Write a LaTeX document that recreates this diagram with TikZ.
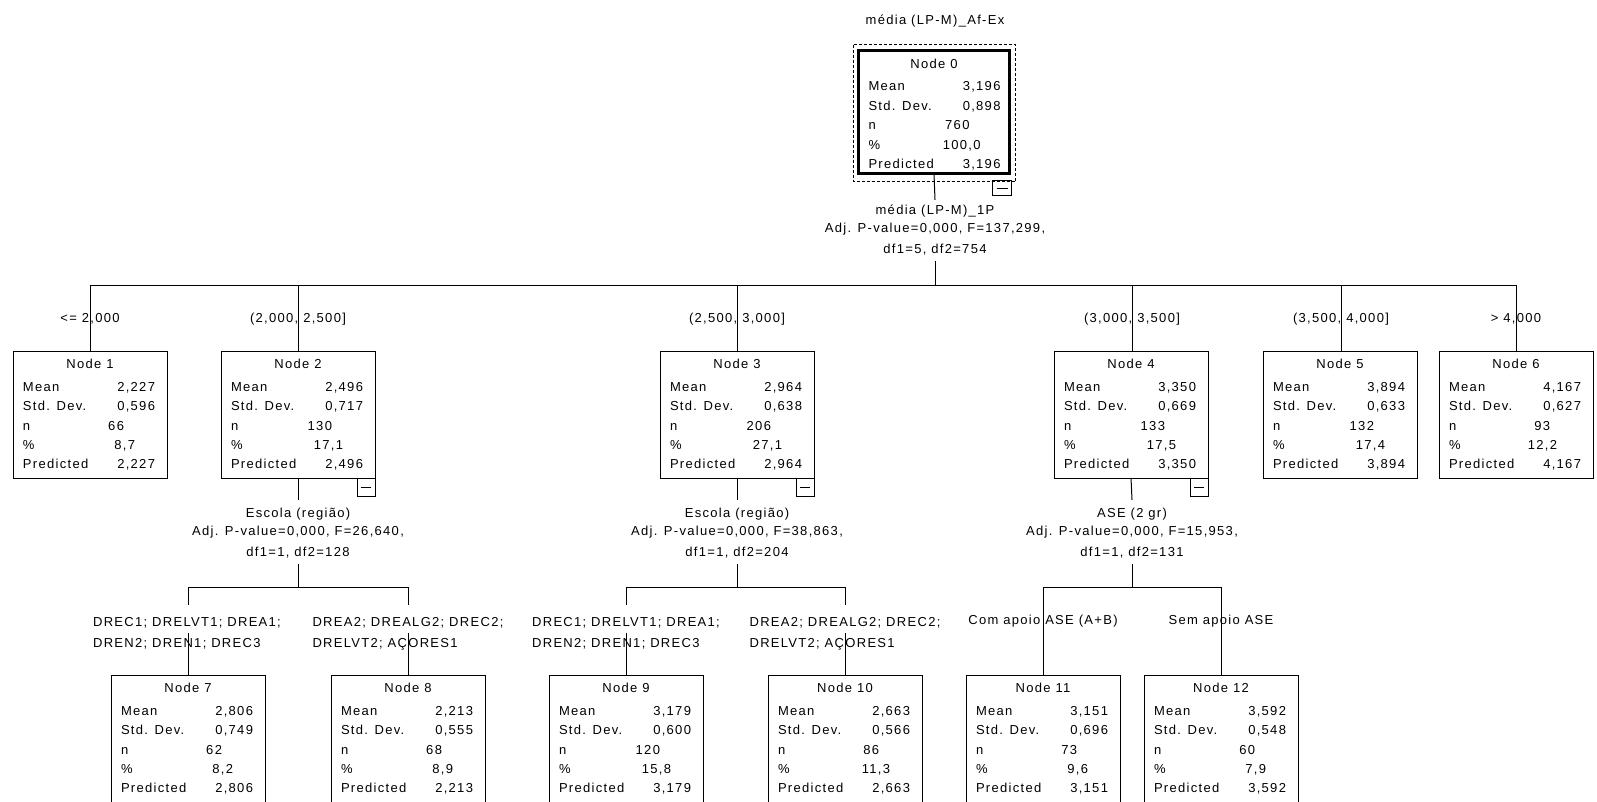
\documentclass[tikz,border=0pt]{standalone}
\usepackage{fontspec}
\setmainfont{Liberation Sans}[LetterSpace=10]
\usetikzlibrary{calc}
\newcommand\ncol{111}
\newcommand\pcol{122}
% optional style, name, position, title, mean, std, n, pct
\newcommand\statbox[8][]{%
  \node[statframe,#1] (#2) at (#3) {};
  \node[txt] (#2-t) at ($(#2.north)+(0,17.5)$) {#4};
  \node[txt,anchor=base west] (#2-ml) at ($(#2.north west)+(10,40)$) {Mean};
  \node[txt,anchor=base east] (#2-mv) at ($(#2.north west)+(142,40)$) {#5};
  \node[txt,anchor=base west] (#2-sl) at ($(#2.north west)+(10,59.5)$) {Std. Dev.};
  \node[txt,anchor=base east] (#2-sv) at ($(#2.north west)+(142,59.5)$) {#6};
  \node[txt,anchor=base west] (#2-nl) at ($(#2.north west)+(10,79)$) {n};
  \node[txt,anchor=base east] (#2-nv) at ($(#2.north west)+(\ncol,79)$) {#7};
  \node[txt,anchor=base west] (#2-pl) at ($(#2.north west)+(10,98.5)$) {\%};
  \node[txt,anchor=base east] (#2-pv) at ($(#2.north west)+(\pcol,98.5)$) {#8};
  \node[txt,anchor=base west] (#2-rl) at ($(#2.north west)+(10,117.5)$) {Predicted};
  \node[txt,anchor=base east] (#2-rv) at ($(#2.north west)+(142,117.5)$) {#5};
}
% name, x, first baseline y, three lines
\newcommand\splitlabel[6]{%
  \node[txt] (#1-a) at (#2,#3) {#4};
  \node[txt] (#1-b) at (#2,{#3+17.5}) {#5};
  \node[txt] (#1-c) at (#2,{#3+39}) {#6};
}
% name, line x, two lines (left aligned block centred on x)
\newcommand\twoline[4]{%
  \node[txt] (#1-a) at (#2,626) {#3};
  \node[txt,anchor=base west] (#1-b) at (#1-a.west |- 0,647.5) {#4};
}
\begin{document}
\begin{tikzpicture}[x=1pt,y=-1pt,
  every node/.style={inner sep=0pt,outer sep=0pt},
  font=\fontsize{13}{15}\selectfont,
  conn/.style={line width=1pt},
  statframe/.style={draw,line width=1pt,minimum width=154pt,minimum height=127pt,anchor=north west},
  thickframe/.style={line width=3pt,minimum width=151pt,minimum height=123pt},
  lowframe/.style={minimum height=140pt},
  txt/.style={anchor=base},
  minusbox/.style={draw,line width=1pt,minimum width=18pt,minimum height=18pt,anchor=north east,
    path picture={\draw[line width=1pt] ([xshift=4pt]path picture bounding box.west) -- ([xshift=-4pt]path picture bounding box.east);}},
  dashframe/.style={line width=1pt,dash pattern=on 3pt off 2pt}
]
\useasboundingbox (0,0) rectangle (1597,801);
\clip (0,0) rectangle (1597,801);
\fill[white] (0,0) rectangle (1597,801);

% root
\node[txt] (title) at (935,24.5) {média (LP-M)\_Af-Ex};
\statbox[thickframe]{n0}{858.5,50.5}{Node 0}{3,196}{0,898}{760}{100,0}
\draw[dashframe] ($(n0.north west)+(-5,-6)$) rectangle ($(n0.south east)+(6,8)$);
\node[minusbox,minimum width=19pt,minimum height=15pt] (n0-m) at ($(n0.south east)+(2,7)$) {};
\splitlabel{s0}{935}{214.5}{média (LP-M)\_1P}{Adj. P-value=0,000, F=137,299,}{df1=5, df2=754}
\coordinate (b0) at (935,285);
\draw[conn] (n0.south) -- ([yshift=5pt]s0-a.north);
\draw[conn] ([yshift=-6pt]s0-c.south) -- (b0);

% level 1 labels
\node[txt] (l1) at (90,322.5) {<= 2,000};
\node[txt] (l2) at (298,322.5) {(2,000, 2,500]};
\node[txt] (l3) at (737,322.5) {(2,500, 3,000]};
\node[txt] (l4) at (1132,322.5) {(3,000, 3,500]};
\node[txt] (l5) at (1341,322.5) {(3,500, 4,000]};
\node[txt] (l6) at (1516,322.5) {> 4,000};

% level 1 boxes
\statbox{n1}{13,351}{Node 1}{2,227}{0,596}{66}{8,7}
\statbox{n2}{221,351}{Node 2}{2,496}{0,717}{130}{17,1}
\statbox{n3}{660,351}{Node 3}{2,964}{0,638}{206}{27,1}
\statbox{n4}{1054,351}{Node 4}{3,350}{0,669}{133}{17,5}
\statbox{n5}{1263,351}{Node 5}{3,894}{0,633}{132}{17,4}
\renewcommand\pcol{118}
\statbox{n6}{1439,351}{Node 6}{4,167}{0,627}{93}{12,2}
\renewcommand\pcol{122}

\draw[conn] (l1 |- b0) -- (l6 |- b0);
\foreach \i in {1,...,6} \draw[conn] (l\i |- b0) -- (l\i |- n\i.north);

% minus boxes
\node[minusbox] (n2-m) at (n2.south east) {};
\node[minusbox] (n3-m) at (n3.south east) {};
\node[minusbox] (n4-m) at (n4.south east) {};

% splits of level 1
\splitlabel{s2}{298}{517.5}{Escola (região)}{Adj. P-value=0,000, F=26,640,}{df1=1, df2=128}
\splitlabel{s3}{737}{517.5}{Escola (região)}{Adj. P-value=0,000, F=38,863,}{df1=1, df2=204}
\splitlabel{s4}{1132}{517.5}{ASE (2 gr)}{Adj. P-value=0,000, F=15,953,}{df1=1, df2=131}
\foreach \i in {2,3,4} {
  \draw[conn] (n\i.south) -- ([yshift=8pt]s\i-a.north);
  \draw[conn] ([yshift=-6pt]s\i-c.south) -- (s\i-c.south |- 0,587);
}

% level 2 boxes
\statbox[lowframe]{n7}{111,675}{Node 7}{2,806}{0,749}{62}{8,2}
\statbox[lowframe]{n8}{331,675}{Node 8}{2,213}{0,555}{68}{8,9}
\statbox[lowframe]{n9}{549,675}{Node 9}{3,179}{0,600}{120}{15,8}
\statbox[lowframe]{n10}{768,675}{Node 10}{2,663}{0,566}{86}{11,3}
\statbox[lowframe]{n11}{966,675}{Node 11}{3,151}{0,696}{73}{9,6}
\statbox[lowframe]{n12}{1144,675}{Node 12}{3,592}{0,548}{60}{7,9}

% level 2 labels
\twoline{c7}{187}{DREC1; DRELVT1; DREA1;}{DREN2; DREN1; DREC3}
\twoline{c8}{408}{DREA2; DREALG2; DREC2;}{DRELVT2; AÇORES1}
\twoline{c9}{626}{DREC1; DRELVT1; DREA1;}{DREN2; DREN1; DREC3}
\twoline{c10}{845}{DREA2; DREALG2; DREC2;}{DRELVT2; AÇORES1}
\node[txt] (c11) at (1043,624.5) {Com apoio ASE (A+B)};
\node[txt] (c12) at (1221,624.5) {Sem apoio ASE};

% level 2 buses and drops
\draw[conn] (n7.north |- 0,587) -- (n8.north |- 0,587);
\draw[conn] (n9.north |- 0,587) -- (n10.north |- 0,587);
\draw[conn] (n11.north |- 0,587) -- (n12.north |- 0,587);
\foreach \i in {7,...,10} {
  \draw[conn] (n\i.north |- 0,587) -- (n\i.north |- 0,605);
  \draw[conn] (n\i.north |- 0,633) -- (n\i.north);
}
\foreach \i in {11,12} \draw[conn] (n\i.north |- 0,587) -- (n\i.north);
\end{tikzpicture}
\end{document}
